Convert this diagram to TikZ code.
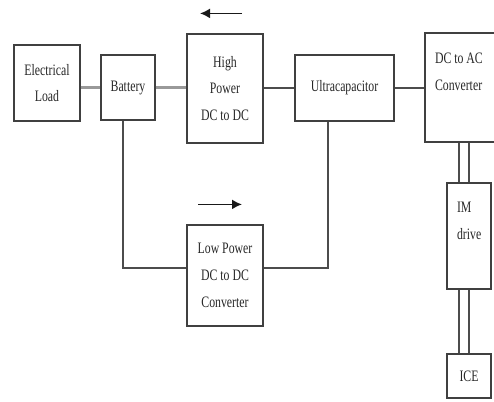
\documentclass[tikz,border=0pt]{standalone}
\usepackage{fontspec}
\setmainfont[FakeStretch=0.74]{Liberation Serif}
\usetikzlibrary{arrows.meta}
\tikzset{
    box/.style={draw=black!75, line width=1.2bp, inner sep=0pt, align=center,
        font=\fontsize{16}{27}\selectfont, text=black!85},
    wire/.style={draw=black!70, line width=1.2bp},
    bus/.style={draw=black!40, line width=3.5bp},
    flow/.style={draw=black!90, line width=1.8bp, -{Latex[length=10bp,width=10bp]}}
}
\begin{document}
\begin{tikzpicture}[x=1bp, y=-1bp]
            \useasboundingbox (0,0) rectangle (494,401);
            \clip (0,0) rectangle (494,401);
            % Blocks of the system
            \node[box, minimum width=66bp, minimum height=76bp] (load) at (47,83) {Electrical\\Load};
            \node[box, minimum width=54bp, minimum height=65bp] (battery) at (128,87.5) {Battery};
            \node[box, minimum width=76bp, minimum height=109bp] (hp) at (225,88.5) {High\\Power\\DC to DC};
            \node[box, minimum width=99bp, minimum height=66bp] (ultra) at (344.5,88) {Ultracapacitor};
            \node[box, minimum width=72bp, minimum height=109bp] (dcac) at (461,87.5) {};
            \node[box, draw=none, anchor=north west, align=left] (dcactxt) at ([xshift=10bp,yshift=-20bp]dcac.north west) {DC to AC\\Converter};
            \node[box, minimum width=76bp, minimum height=101bp] (lowp) at (225,275.5) {Low Power\\DC to DC\\Converter};
            \node[box, minimum width=44bp, minimum height=106bp] (im) at (469,236) {};
            \node[box, draw=none, anchor=north west, align=left] (imtxt) at ([xshift=10bp,yshift=-19bp]im.north west) {IM\\drive};
            \node[box, minimum width=44bp, minimum height=44bp] (ice) at (469,376) {ICE};
            % Links between the blocks
            \draw[bus] (battery.west -| load.east) -- (battery.west);
            \draw[bus] (battery.east) -- (battery.east -| hp.west);
            \draw[wire] (ultra.west -| hp.east) -- (ultra.west);
            \draw[wire] (ultra.east) -- (ultra.east -| dcac.west);
            \draw[wire] ([xshift=-5bp]battery.south) |- ([yshift=7.5bp]lowp.west);
            \draw[wire] ([xshift=-16.5bp]ultra.south) |- ([yshift=7.5bp]lowp.east);
            \foreach \dx in {-10,0} {
                    \draw[wire] ([xshift=\dx bp]im.north) -- ([xshift=\dx bp]im.north |- dcac.south);
                    \draw[wire] ([xshift=\dx bp]ice.north) -- ([xshift=\dx bp]ice.north |- im.south);
                }
            % Direction of power flow
            \draw[flow] ([xshift=17bp,yshift=20bp]hp.north) -- ([xshift=-25bp,yshift=20bp]hp.north);
            \draw[flow] ([xshift=-27bp,yshift=20bp]lowp.north) -- ([xshift=17bp,yshift=20bp]lowp.north);
        \end{tikzpicture}
\end{document}
